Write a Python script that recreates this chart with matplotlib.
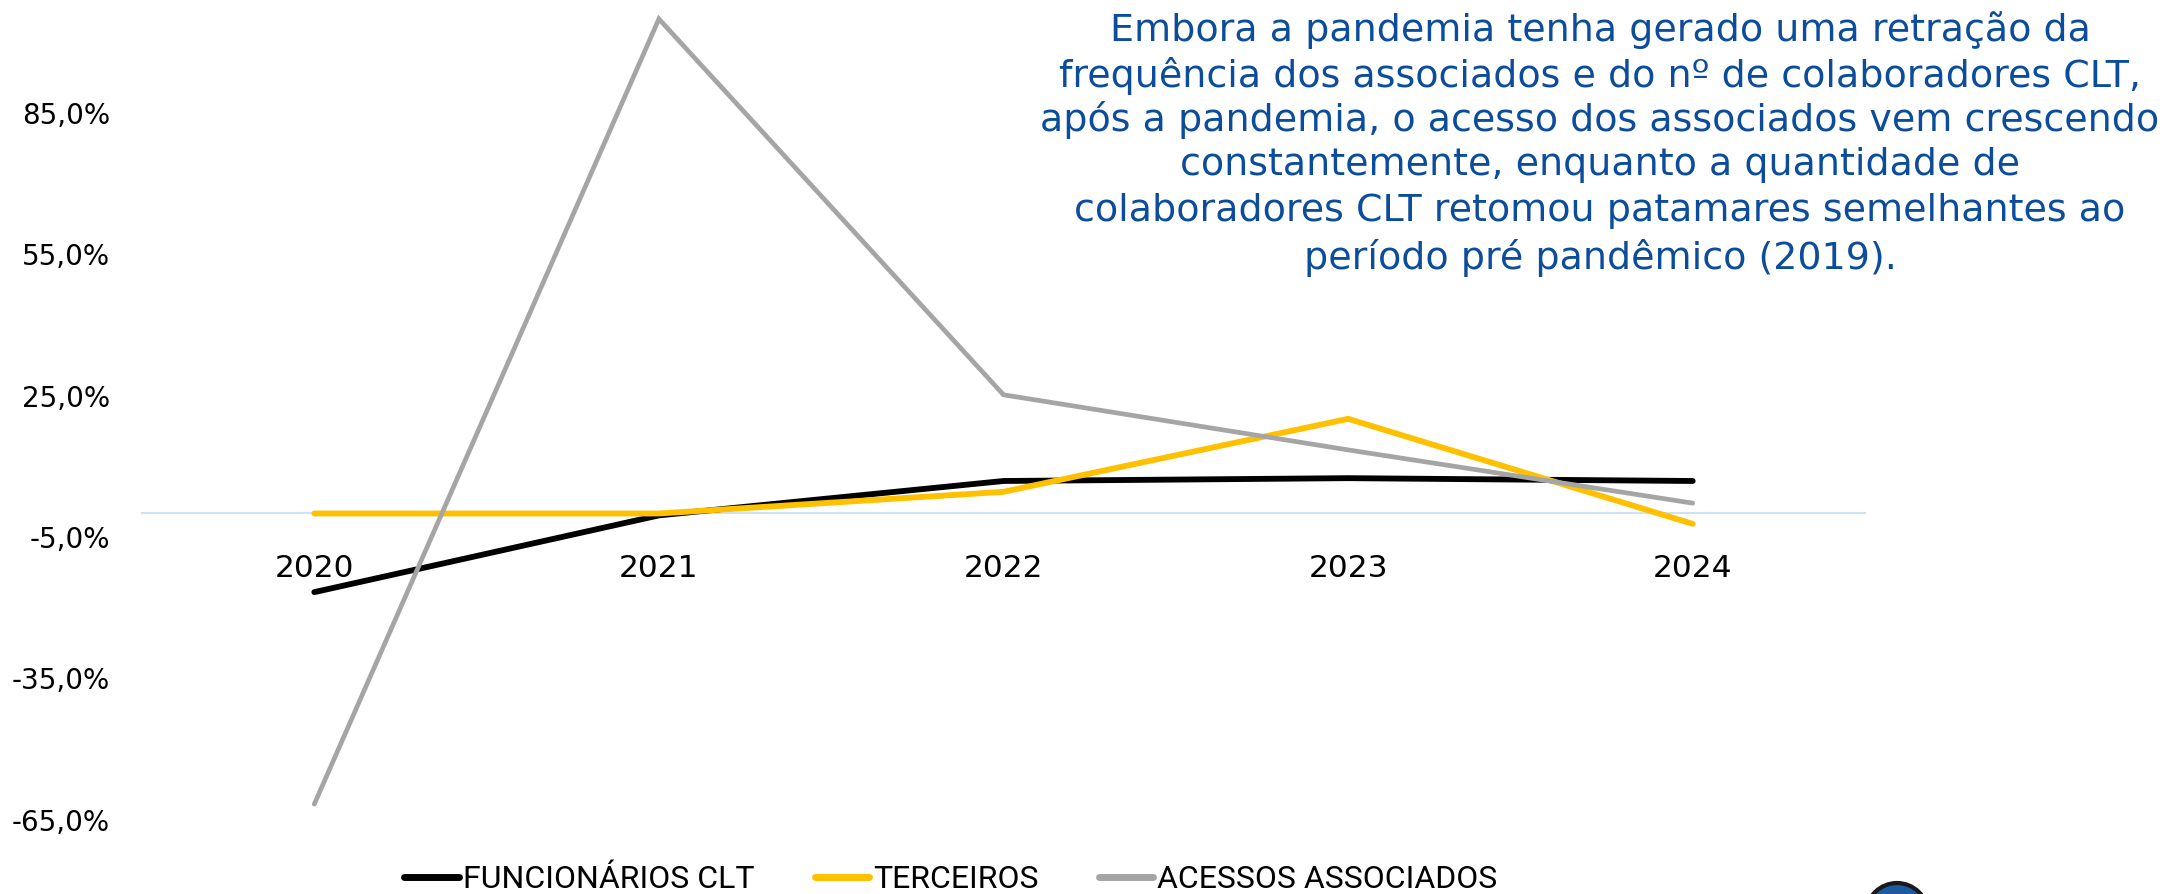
import matplotlib
matplotlib.use("Agg")
import matplotlib.pyplot as plt
from matplotlib.patches import Ellipse
from matplotlib.ticker import FuncFormatter

# ---- data ----
years = ["2020", "2021", "2022", "2023", "2024"]
funcionarios_clt = [-16.7, -0.4, 6.9, 7.5, 6.9]
terceiros = [0.0, 0.0, 4.6, 20.1, -2.2]
acessos_associados = [-61.7, 105.0, 25.2, 13.5, 2.2]
series_names = ["FUNCIONÁRIOS CLT", "TERCEIROS", "ACESSOS ASSOCIADOS"]
y_ticks = [-65, -35, -5, 25, 55, 85]
title_lines = [
    "Embora a pandemia tenha gerado uma retração da",
    "frequência dos associados e do nº de colaboradores CLT,",
    "após a pandemia, o acesso dos associados vem crescendo",
    "constantemente, enquanto a quantidade de",
    "colaboradores CLT retomou patamares semelhantes ao",
    "período pré pandêmico (2019).",
]

W, H = 2167, 894
fig = plt.figure(figsize=(W / 100, H / 100), dpi=100)
ax = fig.add_axes([142 / W, (H - 843.2) / H, 1723 / W, (843.2 - 4.8) / H])

x = list(range(len(years)))
ax.plot(x, funcionarios_clt, color="#000000", lw=4.2, solid_capstyle="round",
        solid_joinstyle="miter", label=series_names[0], zorder=3)
ax.plot(x, terceiros, color="#FFC000", lw=4.2, solid_capstyle="round",
        solid_joinstyle="miter", label=series_names[1], zorder=3)
ax.plot(x, acessos_associados, color="#A5A5A5", lw=3.4, solid_capstyle="round",
        solid_joinstyle="miter", label=series_names[2], zorder=3)

ax.set_xlim(-0.5, len(years) - 0.5)
ax.set_ylim(-70, 108)
ax.set_xticks(x)
ax.set_xticklabels(years)
ax.set_yticks(y_ticks)
ax.yaxis.set_major_formatter(FuncFormatter(lambda v, p: f"{v:.1f}%".replace(".", ",")))

for s in ["top", "right", "left"]:
    ax.spines[s].set_visible(False)
ax.spines["bottom"].set_position(("data", 0))
ax.spines["bottom"].set_color("#CFE2F3")
ax.spines["bottom"].set_linewidth(1.5)
ax.tick_params(axis="x", length=0, pad=29, labelsize=22.5)
ax.tick_params(axis="y", length=0, pad=23, labelsize=20)
ax.patch.set_visible(False)

leg = fig.legend(loc="center", bbox_to_anchor=(951 / W, 14 / H), ncol=3, frameon=False,
                 handlelength=1.7, handletextpad=0.12, columnspacing=1.9,
                 prop={"family": "Roboto", "size": 23})
for ln in leg.get_lines():
    ln.set_linewidth(5)

title_color = "#0B4C9C"
line_y = [30, 76, 120, 165, 211, 258]
for t, yy in zip(title_lines, line_y):
    fig.text(1600 / W, 1 - yy / H, t, ha="center", va="center", fontsize=27.4,
             color=title_color, family="DejaVu Sans")

logo = Ellipse((1897 / W, 1 - 914 / H), 62 / W, 62 / H, transform=fig.transFigure,
               facecolor="#1E5AA0", edgecolor="#1A1A1A", lw=3)
fig.patches.append(logo)

fig.savefig("out.png", dpi=100)
